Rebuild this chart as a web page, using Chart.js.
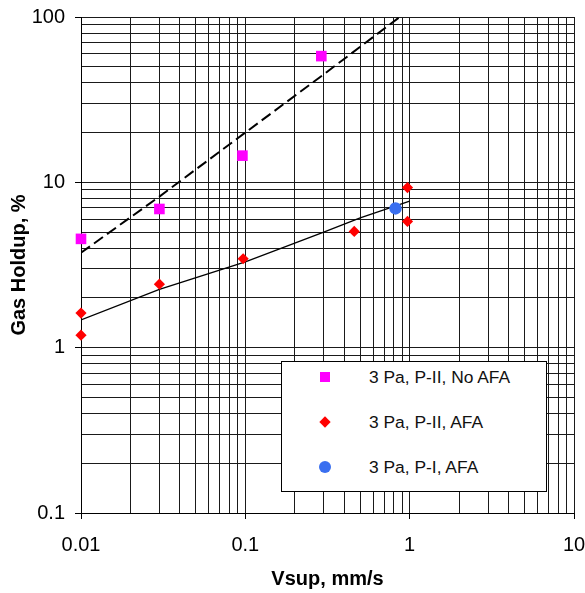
<!DOCTYPE html>
<html>
<head>
<meta charset="utf-8">
<script src="https://cdn.jsdelivr.net/npm/chart.js@4/dist/chart.umd.min.js"></script>
<style>
  body { margin: 0; background: #fff; }
  #wrap { position: relative; width: 585px; height: 593px; }
  #legendBox {
    position: absolute; left: 281px; top: 361px; width: 264px; height: 129px;
    border: 1px solid #000; background: #fff;
    font-family: "Liberation Sans", Arial, sans-serif; font-size: 17.4px; color: #111;
  }
  .row { position: absolute; left: 0; height: 24px; line-height: 24px; }
  .row .txt { position: absolute; left: 87px; white-space: nowrap; }
  .mk { position: absolute; }
</style>
</head>
<body>
<div id="wrap">
  <canvas id="holdupChart" width="585" height="593"></canvas>
  <div id="legendBox"></div>
</div>
<script>
// data
const seriesLabels = ['3 Pa, P-II, No AFA', '3 Pa, P-II, AFA', '3 Pa, P-I, AFA'];

const noAfaX = [0.01, 0.03, 0.096, 0.29];
const noAfaY = [4.55, 6.9, 14.5, 58];

const afaX = [0.01, 0.01, 0.03, 0.097, 0.46, 0.97, 0.97];
const afaY = [1.62, 1.19, 2.42, 3.45, 5.05, 9.3, 5.8];

const p1X = [0.82];
const p1Y = [6.95];

// trend lines
const dashX = [0.01, 0.03, 0.1, 0.3, 0.87];
const dashY = [3.75, 8.2, 20, 45, 100];
const solidX = [0.01, 0.03, 0.1, 0.3, 0.5, 1.0];
const solidY = [1.47, 2.25, 3.3, 5.0, 6.1, 7.7];

const xTickLabels = ['0.01', '0.1', '1', '10'];
const yTickLabels = ['0.1', '1', '10', '100'];

const colors = ['#ff00ff', '#ff0000', '#3a6ff0'];

function pts(xs, ys) {
  return xs.map((x, i) => ({x: x, y: ys[i]}));
}

// grid values 1..9 per decade between the first and last label
function gridValues(labels) {
  const lo = Math.round(Math.log10(parseFloat(labels[0])));
  const hi = Math.round(Math.log10(parseFloat(labels[labels.length - 1])));
  const out = [];
  for (let e = lo; e < hi; e++) {
    for (let m = 1; m <= 9; m++) out.push(parseFloat((m * Math.pow(10, e)).toPrecision(3)));
  }
  out.push(Math.pow(10, hi));
  return out;
}

function isMajor(v) {
  const l = Math.log10(v);
  return Math.abs(l - Math.round(l)) < 1e-6;
}

const font = {family: '"Liberation Sans", Arial, sans-serif', size: 20};

function axis(labels, title, titlePad, tickPad, fit) {
  const grid = gridValues(labels);
  return {
    type: 'logarithmic',
    min: parseFloat(labels[0]),
    max: parseFloat(labels[labels.length - 1]),
    afterBuildTicks: s => { s.ticks = grid.map(v => ({value: v})); },
    afterFit: fit,
    ticks: {
      autoSkip: false, maxRotation: 0, color: '#000', font: font, padding: tickPad,
      callback: v => {
        if (!isMajor(v)) return '';
        return labels.find(l => Math.abs(parseFloat(l) - v) / v < 1e-6) || '';
      }
    },
    grid: {
      color: '#1a1a1a', lineWidth: 1, tickLength: 6,
      tickColor: c => (c.tick && isMajor(c.tick.value)) ? '#000' : 'rgba(0,0,0,0)'
    },
    border: {color: '#000', width: 1},
    title: {display: true, text: title, color: '#000', padding: titlePad,
      font: {family: font.family, size: 20, weight: 'bold'}}
  };
}

new Chart(document.getElementById('holdupChart'), {
  type: 'scatter',
  data: {
    datasets: [
      {label: seriesLabels[0], data: pts(noAfaX, noAfaY), pointStyle: 'rect', pointRadius: 7.5,
        backgroundColor: colors[0], borderColor: colors[0], borderWidth: 0, order: 0, clip: false},
      {label: seriesLabels[1], data: pts(afaX, afaY), pointStyle: 'rectRot', pointRadius: 5.6,
        backgroundColor: colors[1], borderColor: colors[1], borderWidth: 0, order: 0, clip: false},
      {label: seriesLabels[2], data: pts(p1X, p1Y), pointStyle: 'circle', pointRadius: 6.2,
        backgroundColor: colors[2], borderColor: colors[2], borderWidth: 0, order: 0, clip: false},
      {label: 'dash', data: pts(dashX, dashY), showLine: true, pointRadius: 0,
        borderColor: '#000', borderWidth: 2, borderDash: [11, 5], order: 5},
      {label: 'solid', data: pts(solidX, solidY), showLine: true, pointRadius: 0,
        borderColor: '#000', borderWidth: 1.3, order: 5}
    ]
  },
  options: {
    responsive: false,
    animation: false,
    layout: {padding: {top: 17, right: 11, left: 0, bottom: 0}},
    plugins: {legend: {display: false}, tooltip: {enabled: false}},
    scales: {
      x: axis(xTickLabels, 'Vsup, mm/s', {top: 2, bottom: 2}, 14,
        s => { s.height = 80; s.paddingLeft = 0; s.paddingRight = 0; }),
      y: axis(yTickLabels, 'Gas Holdup, %', {top: 7, bottom: 0}, 10,
        s => { s.width = 81; s.paddingTop = 0; s.paddingBottom = 0; })
    }
  }
});

// legend drawn inside the plot, like the original
const box = document.getElementById('legendBox');
const rowTops = [3, 48, 93];
seriesLabels.forEach((lab, i) => {
  const row = document.createElement('div');
  row.className = 'row';
  row.style.top = rowTops[i] + 'px';
  row.style.width = '100%';
  const mk = document.createElement('span');
  mk.className = 'mk';
  if (i === 0) {
    Object.assign(mk.style, {left: '38px', top: '7px', width: '10px', height: '10px', background: colors[0]});
  } else if (i === 1) {
    Object.assign(mk.style, {left: '39px', top: '8px', width: '8px', height: '8px', background: colors[1], transform: 'rotate(45deg)'});
  } else {
    Object.assign(mk.style, {left: '37px', top: '6px', width: '12px', height: '12px', background: colors[2], borderRadius: '50%'});
  }
  const t = document.createElement('span');
  t.className = 'txt';
  t.textContent = lab;
  row.appendChild(mk);
  row.appendChild(t);
  box.appendChild(row);
});
</script>
</body>
</html>
